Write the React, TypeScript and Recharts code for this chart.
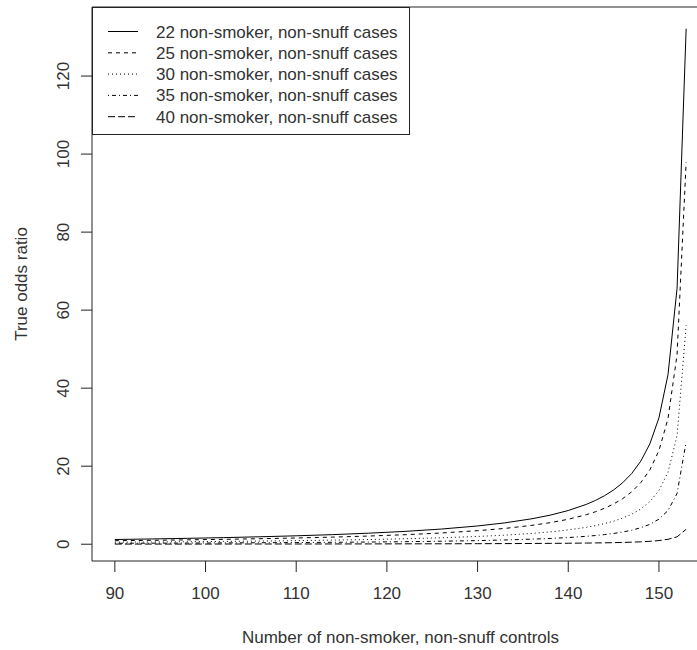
import { LineChart, Line, XAxis, YAxis, Legend, ReferenceArea, Label } from "recharts";

// number of non-smoker, non-snuff controls
const controls = [
  90, 94, 98, 102, 106, 110, 114, 118, 122, 126, 130, 133, 136, 138, 140,
  142, 143, 144, 145, 146, 147, 148, 149, 150, 151, 152, 153,
];

// true odds ratio, one array per number of cases
const cases22 = [
  1.21, 1.35, 1.51, 1.69, 1.91, 2.16, 2.46, 2.83, 3.29, 3.89, 4.68, 5.47, 6.53, 7.45, 8.64,
  10.22, 11.23, 12.44, 13.91, 15.76, 18.14, 21.3, 25.74, 32.39, 43.47, 65.64, 132.14,
];
const cases25 = [
  0.9, 1.0, 1.12, 1.26, 1.41, 1.6, 1.82, 2.1, 2.44, 2.88, 3.47, 4.05, 4.84, 5.52, 6.4,
  7.57, 8.32, 9.22, 10.31, 11.68, 13.44, 15.79, 19.07, 24.0, 32.21, 48.64, 97.92,
];
const cases30 = [
  0.52, 0.57, 0.64, 0.72, 0.81, 0.92, 1.05, 1.2, 1.4, 1.65, 1.99, 2.32, 2.77, 3.16, 3.67,
  4.34, 4.77, 5.28, 5.91, 6.69, 7.7, 9.04, 10.93, 13.75, 18.46, 27.87, 56.1,
];
const cases35 = [
  0.24, 0.27, 0.3, 0.34, 0.38, 0.43, 0.49, 0.56, 0.65, 0.77, 0.93, 1.09, 1.3, 1.48, 1.71,
  2.03, 2.23, 2.47, 2.76, 3.13, 3.6, 4.23, 5.11, 6.43, 8.63, 13.03, 26.23,
];
const cases40 = [
  0.04, 0.04, 0.04, 0.05, 0.06, 0.06, 0.07, 0.08, 0.1, 0.11, 0.14, 0.16, 0.19, 0.22, 0.25,
  0.3, 0.33, 0.36, 0.4, 0.46, 0.53, 0.62, 0.75, 0.94, 1.26, 1.9, 3.83,
];

const xTicks = [90, 100, 110, 120, 130, 140, 150];
const yTicks = [0, 20, 40, 60, 80, 100, 120];
const xDomain = [87.48, 155.52];
const yDomain = [-4.3, 137.7];

const series = [
  { key: "c22", name: "22 non-smoker, non-snuff cases", values: cases22, dash: undefined },
  { key: "c25", name: "25 non-smoker, non-snuff cases", values: cases25, dash: "4 4" },
  { key: "c30", name: "30 non-smoker, non-snuff cases", values: cases30, dash: "1 3" },
  { key: "c35", name: "35 non-smoker, non-snuff cases", values: cases35, dash: "1 3 4 3" },
  { key: "c40", name: "40 non-smoker, non-snuff cases", values: cases40, dash: "7 3" },
];

const data = controls.map((x, i) => {
  const row: Record<string, number> = { x };
  series.forEach((s) => {
    row[s.key] = s.values[i];
  });
  return row;
});

const ink = "#222";
const textInk = "#333";
const fontSize = 17;

const YTick = (props: any) => {
  const { x, y, payload } = props;
  return (
    <text x={x} y={y} transform={`rotate(-90 ${x} ${y})`} textAnchor="middle" fontSize={fontSize} fill={textInk}>
      {payload.value}
    </text>
  );
};

const XTitle = (props: any) => {
  const { x, y, width } = props.viewBox;
  return (
    <text x={x + width / 2} y={y + 82} textAnchor="middle" fontSize={fontSize} fill={textInk}>
      Number of non-smoker, non-snuff controls
    </text>
  );
};

const YTitle = (props: any) => {
  const { x, y, width, height } = props.viewBox;
  const tx = x + width - 65.5;
  const ty = y + height / 2;
  return (
    <text x={tx} y={ty} transform={`rotate(-90 ${tx} ${ty})`} textAnchor="middle" fontSize={fontSize} fill={textInk}>
      True odds ratio
    </text>
  );
};

const renderLegend = () => (
  <svg width={318} height={128} style={{ display: "block" }}>
    <rect x={0.5} y={0.5} width={317} height={127} fill="#fff" stroke={ink} />
    {series.map((s, i) => {
      const cy = 24.5 + i * 21.3;
      return (
        <g key={s.key}>
          <line x1={16} x2={46} y1={cy} y2={cy} stroke="#000" strokeDasharray={s.dash} />
          <text x={64} y={cy + 6} fontSize={fontSize} fill={textInk}>
            {s.name}
          </text>
        </g>
      );
    })}
  </svg>
);

export default function App() {
  return (
    <div
      style={{
        position: "fixed",
        left: 0,
        top: 0,
        width: 697,
        height: 650,
        overflow: "hidden",
        background: "#fff",
        fontFamily: '"Liberation Sans", Arial, sans-serif',
      }}
    >
      <LineChart width={760} height={650} data={data} margin={{ top: 7, right: 51, bottom: 9, left: 32 }}>
        <XAxis
          dataKey="x"
          type="number"
          domain={xDomain}
          allowDataOverflow
          ticks={xTicks}
          height={80}
          axisLine={false}
          tickSize={11}
          tickMargin={15}
          tickLine={{ stroke: ink }}
          tick={{ fontSize, fill: textInk }}
          interval={0}
        >
          <Label content={XTitle} />
        </XAxis>
        <YAxis
          type="number"
          domain={yDomain}
          allowDataOverflow
          ticks={yTicks}
          width={60}
          axisLine={false}
          tickSize={11}
          tickMargin={12}
          tickLine={{ stroke: ink }}
          tick={YTick}
          interval={0}
        >
          <Label content={YTitle} />
        </YAxis>
        <ReferenceArea
          x1={xDomain[0]}
          x2={xDomain[1]}
          y1={yDomain[0]}
          y2={yDomain[1]}
          fill="none"
          stroke={ink}
          strokeWidth={1}
          ifOverflow="visible"
        />
        {series.map((s) => (
          <Line
            key={s.key}
            dataKey={s.key}
            name={s.name}
            type="linear"
            stroke="#000"
            strokeWidth={1}
            strokeDasharray={s.dash}
            dot={false}
            activeDot={false}
            isAnimationActive={false}
          />
        ))}
        <Legend
          layout="vertical"
          align="center"
          verticalAlign="middle"
          content={renderLegend}
          wrapperStyle={{ left: 92 - 0.5, top: 7, width: 318, height: 128 }}
        />
      </LineChart>
    </div>
  );
}
